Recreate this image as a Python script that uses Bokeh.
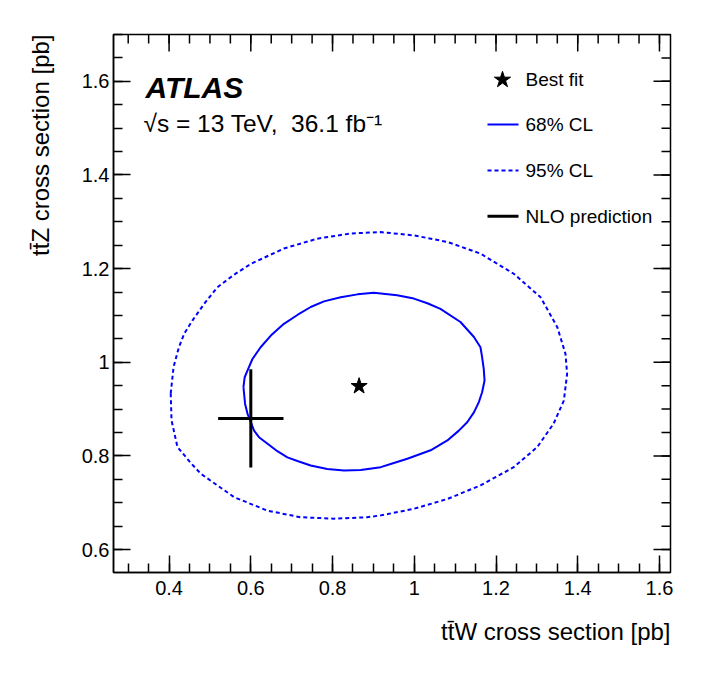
import math
from bokeh.plotting import figure
from bokeh.models import Range1d, FixedTicker, Title
from bokeh.core.properties import value
from bokeh.embed import file_html
from bokeh.resources import INLINE

# ---------------- data ----------------
cl68_x = [0.582, 0.585, 0.592, 0.604, 0.624, 0.649, 0.681, 0.714, 0.7465,
          0.779, 0.820, 0.861, 0.901, 0.958, 0.999, 1.032, 1.064, 1.113,
          1.146, 1.162, 1.166, 1.170, 1.172, 1.166, 1.158, 1.146, 1.1295,
          1.109, 1.081, 1.040, 0.983, 0.950, 0.918, 0.869, 0.828, 0.787,
          0.7465, 0.714, 0.6895, 0.665, 0.641, 0.620, 0.608, 0.600, 0.592,
          0.586, 0.582]
cl68_y = [0.947, 0.968, 0.9825, 1.007, 1.032, 1.057, 1.082, 1.101, 1.118,
          1.130, 1.139, 1.145, 1.1485, 1.143, 1.136, 1.126, 1.114, 1.086,
          1.054, 1.032, 1.011, 0.986, 0.961, 0.936, 0.915, 0.893, 0.872,
          0.854, 0.833, 0.812, 0.794, 0.785, 0.776, 0.770, 0.769, 0.772,
          0.7795, 0.789, 0.797, 0.810, 0.826, 0.840, 0.854, 0.872, 0.890,
          0.911, 0.947]

cl95_x = [0.404, 0.411, 0.424, 0.437, 0.457, 0.486, 0.518, 0.559, 0.600,
          0.681, 0.763, 0.844, 0.918, 0.999, 1.081, 1.162, 1.2435, 1.309,
          1.350, 1.370, 1.374, 1.366, 1.341, 1.301, 1.2435, 1.162, 1.081,
          0.999, 0.918, 0.885, 0.803, 0.722, 0.641, 0.559, 0.4775, 0.453,
          0.4205, 0.406, 0.404]
cl95_y = [0.933, 0.990, 1.032, 1.061, 1.089, 1.125, 1.160, 1.187, 1.210,
          1.243, 1.264, 1.275, 1.278, 1.271, 1.257, 1.232, 1.189, 1.139,
          1.075, 1.018, 0.975, 0.918, 0.869, 0.819, 0.776, 0.737, 0.708,
          0.687, 0.673, 0.669, 0.666, 0.669, 0.683, 0.712, 0.762, 0.785,
          0.819, 0.876, 0.933]

best_fit_x = [0.865]
best_fit_y = [0.949]

nlo_x = [0.60]
nlo_y = [0.88]
nlo_ex = [0.08]
nlo_ey = [0.105]

x_ticks = [0.4, 0.6, 0.8, 1.0, 1.2, 1.4, 1.6]
x_tick_labels = ["0.4", "0.6", "0.8", "1", "1.2", "1.4", "1.6"]
y_ticks = [0.6, 0.8, 1.0, 1.2, 1.4, 1.6]
y_tick_labels = ["0.6", "0.8", "1", "1.2", "1.4", "1.6"]

legend_labels = ["Best fit", "68% CL", "95% CL", "NLO prediction"]
x_title = "tt\u0304W cross section [pb]"
y_title = "tt\u0304Z cross section [pb]"
atlas_text = "ATLAS"
energy_text = "\u221as = 13 TeV,\u00a0 36.1 fb\u207b\u00b9"

# ---------------- layout ----------------
X0, X1 = 0.264, 1.627
Y0, Y1 = 0.551, 1.700
W, H = 690, 668
ML, MR, MT, MB = 113, 20, 34, 96
FL, FR = ML, W - MR
FT, FB = MT, H - MB


def dx(px):
    return X0 + (px - FL) / (FR - FL) * (X1 - X0)


def dy(py):
    return Y1 - (py - FT) / (FB - FT) * (Y1 - Y0)


FONT = "Liberation Sans"

p = figure(width=W, height=H, x_range=Range1d(X0, X1), y_range=Range1d(Y0, Y1),
           output_backend="svg", toolbar_location=None,
           min_border_left=ML, min_border_right=MR,
           min_border_top=MT, min_border_bottom=MB)
p.grid.visible = False
p.outline_line_color = "black"
p.outline_line_width = 1.5
p.background_fill_color = "white"
p.border_fill_color = "white"


def minor_list(lo, hi, step):
    n0 = int(math.ceil(lo / step - 1e-9))
    n1 = int(math.floor(hi / step + 1e-9))
    return [round(k * step, 4) for k in range(n0, n1 + 1)]


x_minor = minor_list(X0, X1, 0.05)
y_minor = minor_list(Y0, Y1, 0.05)

MAJ, MIN = 17, 9


def style_axis(ax, ticks, minors, labels, standoff):
    ax.ticker = FixedTicker(ticks=ticks, minor_ticks=minors)
    ax.major_tick_in = MAJ
    ax.major_tick_out = 0
    ax.minor_tick_in = MIN
    ax.minor_tick_out = 0
    ax.axis_line_color = "black"
    ax.axis_line_width = 1.5
    ax.major_tick_line_color = "black"
    ax.major_tick_line_width = 1.5
    ax.minor_tick_line_color = "black"
    ax.minor_tick_line_width = 1.5
    ax.major_label_overrides = {t: l for t, l in zip(ticks, labels)}
    ax.major_label_text_font = FONT
    ax.major_label_text_font_size = "20px"
    ax.major_label_text_color = "black"
    ax.major_label_standoff = standoff
    ax.axis_label = None


style_axis(p.xaxis[0], x_ticks, x_minor, x_tick_labels, 8)
style_axis(p.yaxis[0], y_ticks, y_minor, y_tick_labels, 4)

# axis titles, right-aligned to the axis ends (ROOT style)
p.add_layout(Title(text=x_title, align="right", standoff=36,
                   text_font=FONT, text_font_size="24px",
                   text_font_style="normal", text_color="black"), "below")
p.add_layout(Title(text=y_title, align="right", standoff=49,
                   text_font=FONT, text_font_size="24px",
                   text_font_style="normal", text_color="black"), "left")

# mirror ticks on the top and right frame edges (half of each bar is clipped)
p.rect(x=[X1] * len(y_ticks), y=y_ticks, width=2 * MAJ, height=1.5,
       width_units="screen", height_units="screen", fill_color="black",
       line_color=None)
p.rect(x=[X1] * len(y_minor), y=y_minor, width=2 * MIN, height=1.5,
       width_units="screen", height_units="screen", fill_color="black",
       line_color=None)
p.rect(x=x_ticks, y=[Y1] * len(x_ticks), width=1.5, height=2 * MAJ,
       width_units="screen", height_units="screen", fill_color="black",
       line_color=None)
p.rect(x=x_minor, y=[Y1] * len(x_minor), width=1.5, height=2 * MIN,
       width_units="screen", height_units="screen", fill_color="black",
       line_color=None)

# ---------------- glyphs ----------------
p.line(cl95_x, cl95_y, line_color="#0000ff", line_width=2, line_dash="4 3")
p.line(cl68_x, cl68_y, line_color="#0000ff", line_width=2)

p.segment(x0=[nlo_x[0] - nlo_ex[0], nlo_x[0]],
          y0=[nlo_y[0], nlo_y[0] - nlo_ey[0]],
          x1=[nlo_x[0] + nlo_ex[0], nlo_x[0]],
          y1=[nlo_y[0], nlo_y[0] + nlo_ey[0]],
          line_color="black", line_width=3)

p.scatter(best_fit_x, best_fit_y, marker="star", size=17,
          fill_color="black", line_color="black")

# ---------------- legend (drawn by hand, ROOT style) ----------------
lg_x0, lg_x1, lg_tx = dx(487), dx(518), dx(525)
row_y = [dy(79.3), dy(124), dy(170), dy(215.7)]
p.scatter([dx(502)], [row_y[0]], marker="star", size=17,
          fill_color="black", line_color="black")
p.line([lg_x0, lg_x1], [row_y[1]] * 2, line_color="#0000ff", line_width=2)
p.line([lg_x0, lg_x1], [row_y[2]] * 2, line_color="#0000ff", line_width=2,
       line_dash="4 3")
p.line([lg_x0, lg_x1], [row_y[3]] * 2, line_color="black", line_width=3)
p.text(x=[lg_tx] * 4, y=row_y, text=legend_labels, text_font=value(FONT),
       text_font_size="19px", text_color="black", text_baseline="middle",
       text_align="left")

# ---------------- texts ----------------
p.text(x=[dx(145)], y=[dy(86.7)], text=[atlas_text], text_font=value(FONT),
       text_font_size="30px", text_font_style="bold italic",
       text_color="black", text_baseline="alphabetic")
p.text(x=[dx(143)], y=[dy(123.3)], text=[energy_text], text_font=value(FONT),
       text_font_size="24.5px", text_color="black",
       text_baseline="alphabetic")

open("out.html", "w").write(file_html(p, INLINE))
